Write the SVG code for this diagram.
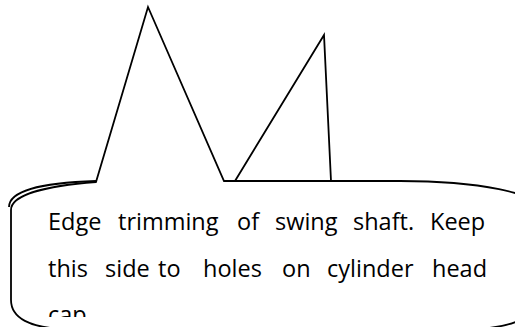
<svg xmlns="http://www.w3.org/2000/svg" width="515" height="327" viewBox="0 0 515 327">
  <defs>
    <style>
      .ln { fill: none; stroke: #000; stroke-width: 1.8; stroke-linejoin: miter; stroke-linecap: butt; }
      .tx { font-family: "Open Sans", Lato, "Liberation Sans", sans-serif; font-size: 23.5px; fill: #000; }
    </style>
    <clipPath id="textclip">
      <rect x="0" y="0" width="515" height="317"/>
    </clipPath>
  </defs>
  <rect width="515" height="327" fill="#fff"/>
  <g id="callout">
    <path class="ln" d="M 9,207 C 9,191 38,183 96,181"/>
    <path class="ln" d="M 96,182 L 148,7 L 224,181 L 400,181 A 140,28 0 0 1 540,209 L 540,298 C 540,318 505,329 470,329 L 65,329 C 30,328 11,318 11,300 L 11,210 C 11,195 45,186 96,182 Z"/>
  </g>
  <g id="pointer2">
    <path class="ln" d="M 235,181 L 324,35 L 331,181"/>
  </g>
  <g id="label" clip-path="url(#textclip)">
    <text class="tx" y="229.5"><tspan x="48">Edge</tspan><tspan x="118">trimming</tspan><tspan x="237">of</tspan><tspan x="275">swing</tspan><tspan x="353">shaft.</tspan><tspan x="430">Keep</tspan></text>
    <text class="tx" y="276.5"><tspan x="48">this</tspan><tspan x="105">side</tspan><tspan x="158">to</tspan><tspan x="203">holes</tspan><tspan x="282">on</tspan><tspan x="327">cylinder</tspan><tspan x="432">head</tspan></text>
    <text class="tx" y="323"><tspan x="48">cap</tspan></text>
  </g>
  <g id="connectors"/>
</svg>
